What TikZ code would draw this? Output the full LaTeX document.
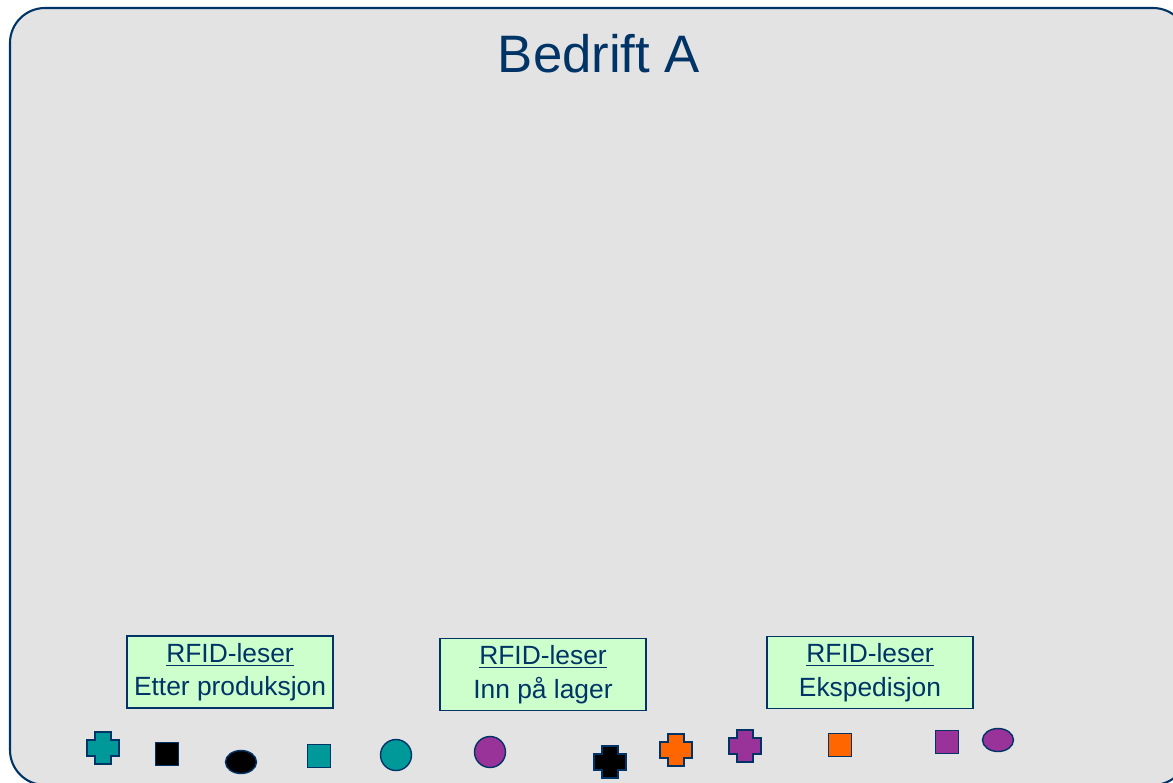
\documentclass[tikz,border=0pt]{standalone}
\usepackage{fontspec}
\setmainfont{Liberation Sans}
\usepackage{xcolor}
\usetikzlibrary{shapes.geometric}
\definecolor{darkblue}{HTML}{003366}
\definecolor{panelgray}{HTML}{E3E3E3}
\definecolor{mint}{HTML}{CCFFCC}
\definecolor{tagteal}{HTML}{009999}
\definecolor{tagpurple}{HTML}{993399}
\definecolor{tagorange}{HTML}{FF6600}
% plus-shaped tag: name, centre, colour
\newcommand{\plustag}[3]{%
  \coordinate (#1) at #2;
  \draw[tag line,fill=#3,shift={(#1)}] (-8,-16) -- (8,-16) -- (8,-8) -- (16,-8)
    -- (16,8) -- (8,8) -- (8,16) -- (-8,16) -- (-8,8) -- (-16,8) -- (-16,-8)
    -- (-8,-8) -- cycle;}
\begin{document}
\begin{tikzpicture}[x=0.02cm,y=-0.02cm,
      tag line/.style={draw=darkblue,line width=0.8pt},
      reader node/.style={draw=darkblue,line width=0.8pt,fill=mint,text=darkblue,
        minimum width=4.12cm,minimum height=1.44cm,inner sep=0pt,align=center,
        font=\fontsize{15}{19}\selectfont},
      square tag/.style={tag line,rectangle,minimum size=0.46cm,inner sep=0pt},
      round tag/.style={tag line,circle,minimum size=0.62cm,inner sep=0pt},
      oval tag/.style={tag line,ellipse,minimum width=0.62cm,minimum height=0.46cm,inner sep=0pt}]
    \useasboundingbox (0,0) rectangle (1173,782);
    \clip (0,0) rectangle (1173,782);
    \fill[panelgray,draw=darkblue,line width=1.2pt,rounded corners=0.7cm]
      (10,8) rectangle (1188,785);
    \node[text=darkblue,font=\fontsize{30}{36}\selectfont,anchor=base] (title) at (599,72) {Bedrift A};
    % readers
    \node[reader node] (prod)  at (230,672)   {\underline{RFID-leser}\\Etter produksjon};
    \node[reader node] (lager) at (543,674.5) {\underline{RFID-leser}\\Inn på lager};
    \node[reader node] (eksp)  at (870,672.5) {\underline{RFID-leser}\\Ekspedisjon};
    % tags
    \plustag{t1}{(103,748)}{tagteal}
    \node[square tag,fill=black]     (t2)  at (167,754) {};
    \node[oval tag,fill=black]       (t3)  at (241,762) {};
    \node[square tag,fill=tagteal]   (t4)  at (319,756) {};
    \node[round tag,fill=tagteal]    (t5)  at (396,755) {};
    \node[round tag,fill=tagpurple]  (t6)  at (490,752) {};
    \plustag{t7}{(610,762)}{black}
    \plustag{t8}{(676,750)}{tagorange}
    \plustag{t9}{(745,746)}{tagpurple}
    \node[square tag,fill=tagorange] (t10) at (840,745) {};
    \node[square tag,fill=tagpurple] (t11) at (947,742) {};
    \node[oval tag,fill=tagpurple]   (t12) at (998,740) {};
\end{tikzpicture}
\end{document}
